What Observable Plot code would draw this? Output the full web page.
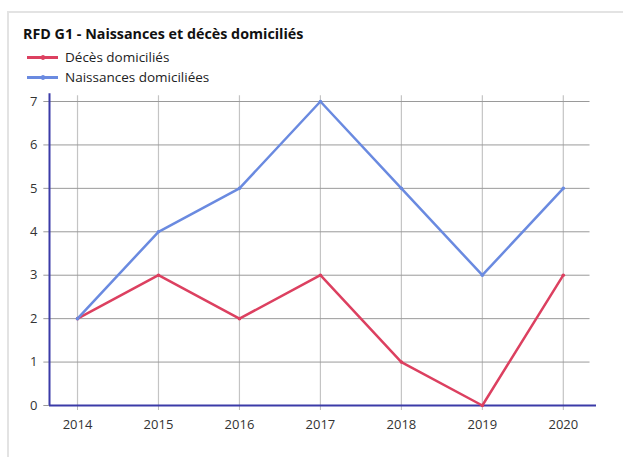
<!DOCTYPE html>
<html><head><meta charset="utf-8">
<script src="https://cdn.jsdelivr.net/npm/d3@7"></script>
<script src="https://cdn.jsdelivr.net/npm/@observablehq/plot@0.6"></script>
<style>
body{margin:0;background:#fff;font-family:"Open Sans",sans-serif;}
#wrap{position:relative;width:623px;height:457px;overflow:hidden;}
#frame{position:absolute;left:7px;top:11px;width:640px;height:470px;border:2px solid #e3e3e3;box-sizing:border-box;}
#title{position:absolute;left:23px;top:24px;font-size:14.3px;font-weight:bold;color:#111;white-space:nowrap;}
.leg{position:absolute;left:27px;font-size:13.5px;color:#222;white-space:nowrap;display:flex;align-items:center;line-height:18px;}
.sw{display:inline-block;width:31px;height:3px;margin-right:7px;position:relative;}
.sw i{position:absolute;left:14px;top:-1px;width:4px;height:5px;border-radius:2px;}
#chart{position:absolute;left:0;top:80px;}
</style></head><body>
<div id="wrap">
<div id="frame"></div>
<div id="title">RFD G1 - Naissances et décès domiciliés</div>
<div id="legend"></div>
<div id="chart"></div>
</div>
<script>
const years = [2014, 2015, 2016, 2017, 2018, 2019, 2020];
const deces = [2, 3, 2, 3, 1, 0, 3];
const naissances = [2, 4, 5, 7, 5, 3, 5];
const yTicks = [0, 1, 2, 3, 4, 5, 6, 7];
const seriesNames = ["Décès domiciliés", "Naissances domiciliées"];
const seriesColors = ["#dc4060", "#6a8ae0"];

const data = [];
years.forEach((y, i) => {
  data.push({year: y, value: deces[i], s: seriesNames[0]});
  data.push({year: y, value: naissances[i], s: seriesNames[1]});
});

const legend = document.getElementById("legend");
seriesNames.forEach((n, i) => {
  const d = document.createElement("div");
  d.className = "leg";
  d.style.top = (48 + i * 20) + "px";
  d.innerHTML = `<span class="sw" style="background:${seriesColors[i]}"><i style="background:${seriesColors[i]}"></i></span>${n}`;
  legend.appendChild(d);
});

const xDom = [2013.654, 2020.41];
const axisColor = "#3b3ba8";

const plot = Plot.plot({
  width: 623, height: 377,
  marginTop: 21, marginBottom: 52, marginLeft: 49, marginRight: 27,
  style: {fontFamily: "Open Sans, sans-serif", fontSize: "13px", color: "#333", background: "transparent"},
  x: {domain: xDom, ticks: years, tickFormat: d => String(d), label: null},
  y: {domain: [0, 7], ticks: yTicks, tickFormat: d => String(d), label: null},
  marks: [
    Plot.ruleX(years, {x: d => d, y1: 0, y2: 7.13, stroke: "#c4c4c4", strokeWidth: 1.2}),
    Plot.ruleY(yTicks, {y: d => d, x1: xDom[0] - 0.07, x2: 2020.33, stroke: "#9a9a9a", strokeWidth: 1}),
    Plot.axisX({ticks: years, tickFormat: d => String(d), tickSize: 5, stroke: "#bbb", tickPadding: 9, fontSize: 13, color: "#333"}),
    Plot.axisY({ticks: yTicks, tickFormat: d => String(d), tickSize: 0, tickPadding: 12, fontSize: 13}),
    Plot.ruleX([xDom[0]], {y1: 0, y2: 7.18, stroke: axisColor, strokeWidth: 2}),
    Plot.ruleY([0], {x1: xDom[0], x2: xDom[1], stroke: axisColor, strokeWidth: 2}),
    Plot.line(data, {x: "year", y: "value", z: "s", stroke: d => seriesColors[seriesNames.indexOf(d.s)], strokeWidth: 2.5}),
    Plot.dot(data, {x: "year", y: "value", r: 1.8, fill: d => seriesColors[seriesNames.indexOf(d.s)], stroke: "none"})
  ]
});
document.getElementById("chart").appendChild(plot);
</script>
</body></html>
